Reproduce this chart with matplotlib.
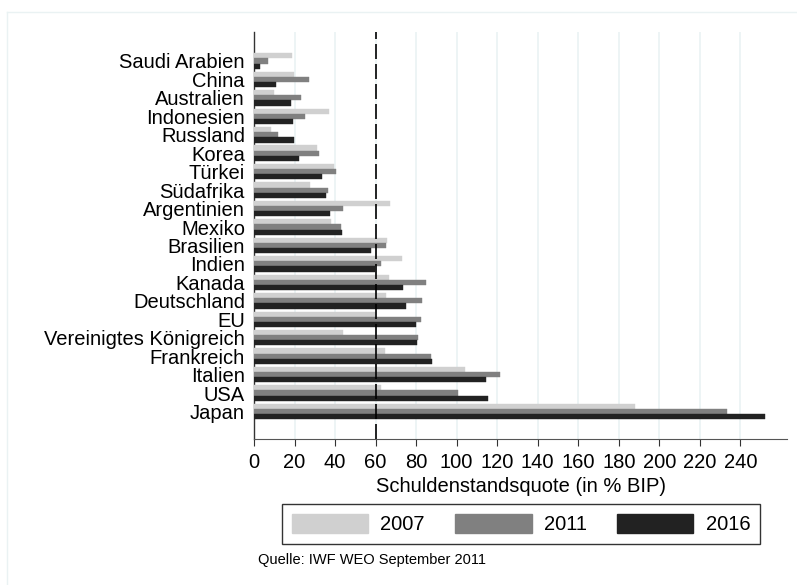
import matplotlib
matplotlib.use("Agg")
import matplotlib.pyplot as plt
from matplotlib.patches import Patch
from matplotlib.lines import Line2D
import numpy as np

plt.rcParams['font.family'] = ['Liberation Sans', 'DejaVu Sans']

countries = ["Saudi Arabien", "China", "Australien", "Indonesien", "Russland",
             "Korea", "Türkei", "Südafrika", "Argentinien", "Mexiko",
             "Brasilien", "Indien", "Kanada", "Deutschland", "EU",
             "Vereinigtes Königreich", "Frankreich", "Italien", "USA", "Japan"]
v2007 = [18.6, 19.8, 9.9, 37.1, 8.4, 31.0, 39.6, 27.7, 67.3, 38.0,
         65.7, 73.1, 66.8, 65.3, 59.6, 44.1, 64.5, 104.0, 62.7, 188.0]
v2011 = [7.1, 27.2, 23.1, 25.4, 11.9, 32.2, 40.4, 36.3, 43.7, 43.1,
         65.3, 62.7, 84.7, 83.0, 82.5, 81.0, 87.1, 121.5, 100.5, 233.5]
v2016 = [3.0, 10.9, 18.3, 19.1, 19.6, 22.4, 33.5, 35.6, 37.6, 43.4,
         57.6, 59.9, 73.3, 75.2, 79.9, 80.5, 88.0, 114.5, 115.7, 252.0]
years = ["2007", "2011", "2016"]
colors = ["#d0d0d0", "#808080", "#222222"]
xticks = list(range(0, 241, 20))
reference_line = 60

W, H = 797, 585
fig = plt.figure(figsize=(W / 100, H / 100), dpi=100)
ax = fig.add_axes([254 / W, 1 - 439 / H, (787 - 254) / W, (439 - 32) / H])

pos = np.arange(len(countries))
bh = 0.28
for off, vals, col in zip([-bh, 0, bh], [v2007, v2011, v2016], colors):
    ax.barh(pos + off, vals, height=bh, color=col, edgecolor=col, linewidth=0.3, zorder=3)

ax.set_xlim(0, 263)
ax.set_ylim(len(countries) - 1 + 1.49, -1.57)
ax.set_yticks(pos)
ax.set_yticklabels(countries, fontsize=14.5)
ax.set_xticks(xticks)
ax.set_xticklabels([str(t) for t in xticks], fontsize=14.5)
ax.tick_params(axis='y', length=0, pad=6.5)
ax.tick_params(axis='x', length=5, width=0.8, pad=5, color='#333333')
ax.grid(axis='x', color='#eaf2f3', linewidth=1.2, zorder=0)
ax.axvline(reference_line, color='black', linestyle=(0, (9, 3)), linewidth=1.2, zorder=4)
ax.set_xlabel("Schuldenstandsquote (in % BIP)", fontsize=14.5, labelpad=4)
for s in ['top', 'right']:
    ax.spines[s].set_visible(False)
ax.spines['left'].set_color('#333333')
ax.spines['bottom'].set_color('#555555')
ax.spines['left'].set_linewidth(1.0)
ax.spines['bottom'].set_linewidth(0.8)

handles = [Patch(facecolor=c, edgecolor=c) for c in colors]
leg = fig.legend(handles, years, loc='center', bbox_to_anchor=(521 / W, 1 - 524 / H),
                 ncol=3, fontsize=14.5, frameon=True, fancybox=False,
                 edgecolor='black', handlelength=3.8, handleheight=1.05,
                 handletextpad=0.6, columnspacing=1.5, borderpad=0.5,
                 borderaxespad=0)
leg.get_frame().set_linewidth(1.0)

fig.text(258 / W, 1 - 560 / H, "Quelle: IWF WEO September 2011", fontsize=10.5,
         ha='left', va='center')

# outer graph region frame (left and top edges visible)
fig.add_artist(Line2D([6.5 / W, 6.5 / W], [0, 1 - 11.5 / H], color='#eaf2f3', linewidth=1.0))
fig.add_artist(Line2D([6.5 / W, 1], [1 - 11.5 / H, 1 - 11.5 / H], color='#eaf2f3', linewidth=1.0))

fig.savefig("out.png", dpi=100)
